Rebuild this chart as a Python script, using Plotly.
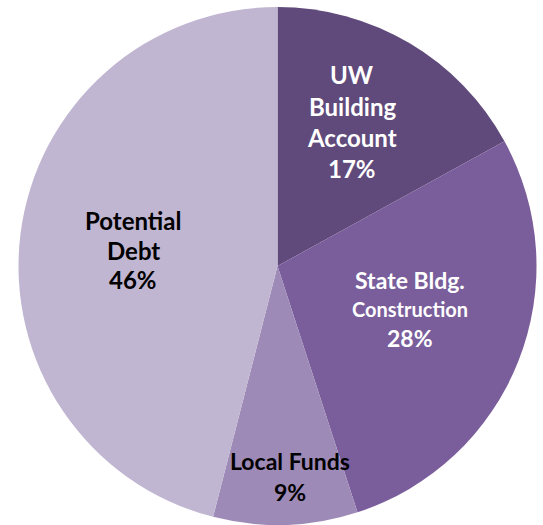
import plotly.graph_objects as go

# Funding sources and their shares (percent)
categories = ["UW Building Account", "State Bldg. Construction", "Local Funds", "Potential Debt"]
shares = [17, 28, 9, 46]
label_lines = [
    ["UW", "Building", "Account"],
    ["State Bldg.", "Construction"],
    ["Local Funds"],
    ["Potential", "Debt"],
]
slice_colors = ["#604a7b", "#7a5d9b", "#9e8ab7", "#c1b6d1"]

W, H = 543, 525

# label styling / placement (pixels)
label_font_color = ["white", "white", "black", "black"]
label_centers = [(352, 121.5), (410, 309), (290, 476), (133, 250)]
line_gap = [31, 29, 31, 29.5]
line_sizes = [[24, 24, 24, 24], [23, 20, 23], [23, 23], [24, 24, 24]]

fig = go.Figure(
    go.Pie(
        labels=categories,
        values=shares,
        sort=False,
        direction="clockwise",
        rotation=0,
        marker=dict(colors=slice_colors, line=dict(width=0)),
        textinfo="none",
        hoverinfo="label+percent",
        showlegend=False,
        domain=dict(x=[18 / W, 537 / W], y=[0, 1 - 7 / H]),
    )
)

annotations = []
for i, (lines, val) in enumerate(zip(label_lines, shares)):
    texts = lines + [f"{val}%"]
    cx, cy = label_centers[i]
    n = len(texts)
    for j, t in enumerate(texts):
        py = cy + (j - (n - 1) / 2) * line_gap[i]
        annotations.append(
            dict(
                text=f"<b>{t}</b>",
                x=cx / W,
                y=1 - py / H,
                xref="paper",
                yref="paper",
                xanchor="center",
                yanchor="middle",
                showarrow=False,
                font=dict(family="Lato", size=line_sizes[i][j], color=label_font_color[i]),
            )
        )

fig.update_layout(
    width=W,
    height=H,
    margin=dict(l=0, r=0, t=0, b=0),
    paper_bgcolor="white",
    plot_bgcolor="white",
    annotations=annotations,
)

fig.write_html("out.html")
